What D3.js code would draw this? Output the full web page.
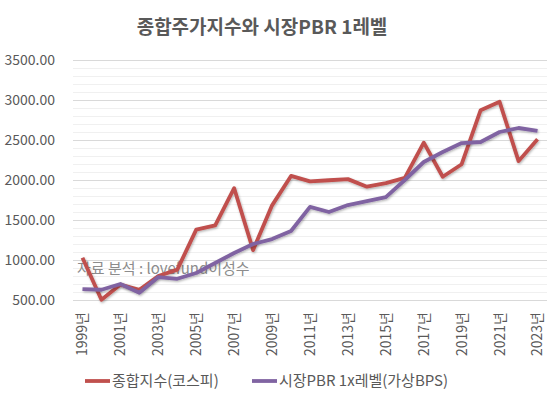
<!DOCTYPE html>
<html>
<head>
<meta charset="utf-8">
<script src="https://cdn.jsdelivr.net/npm/d3@7"></script>
<style>
  body { margin: 0; background: #fff; }
  text { font-family: "Noto Sans CJK KR", "Noto Sans", sans-serif; }
</style>
</head>
<body>
<div id="chart"></div>
<script>
var years = d3.range(1999, 2024);
var kospi = [1028, 504, 693, 627, 800, 880, 1379, 1434, 1897, 1124, 1683, 2051, 1983, 1997, 2011, 1916, 1961, 2026, 2467, 2041, 2197, 2873, 2977, 2236, 2510];
var pbrLevel = [637, 628, 700, 590, 787, 765, 837, 962, 1087, 1200, 1262, 1362, 1665, 1600, 1687, 1737, 1787, 2000, 2225, 2350, 2462, 2475, 2600, 2650, 2615];
var yTicks = [500, 1000, 1500, 2000, 2500, 3000, 3500];
var seriesNames = ["종합지수(코스피)", "시장PBR 1x레벨(가상BPS)"];
var colors = ["#C0504D", "#8064A2"];

var vWidth = 557, vHeight = 397;
var mLeft = 73, mRight = 547, mTop = 60, mBottom = 300;

var svg = d3.select("#chart").append("svg")
    .attr("width", vWidth)
    .attr("height", vHeight);

var defs = svg.append("defs");
var f = defs.append("filter").attr("id", "shadow")
    .attr("x", "-5%").attr("y", "-5%").attr("width", "110%").attr("height", "120%");
f.append("feDropShadow").attr("dx", 0.8).attr("dy", 1.2).attr("stdDeviation", 0.8)
    .attr("flood-color", "#000").attr("flood-opacity", 0.3);

var x = d3.scaleBand().domain(years).range([mLeft, mRight]);
var y = d3.scaleLinear().domain([500, 3500]).range([mBottom, mTop]);

// title
svg.append("text")
    .attr("x", 262).attr("y", 34)
    .attr("text-anchor", "middle")
    .attr("font-size", 19).attr("font-weight", "bold")
    .attr("fill", "#595959")
    .text("종합주가지수와  시장PBR 1레벨");

// minor + major gridlines
svg.append("g").selectAll("line")
    .data(d3.range(500, 3501, 100))
    .enter().append("line")
    .attr("x1", mLeft).attr("x2", mRight)
    .attr("y1", function (d) { return Math.round(y(d)) + 0.5; })
    .attr("y2", function (d) { return Math.round(y(d)) + 0.5; })
    .attr("stroke", function (d) { return d % 500 === 0 ? "#d9d9d9" : "#f0f0f0"; })
    .attr("stroke-width", 1);

// y axis labels
var yAxis = svg.append("g")
    .attr("transform", "translate(" + (mLeft - 15) + ",0)")
    .call(d3.axisLeft(y).tickValues(yTicks).tickSize(0).tickFormat(d3.format(".2f")));
yAxis.select(".domain").remove();
yAxis.selectAll("text")
    .attr("font-size", 14).attr("fill", "#595959")
    .attr("font-family", "'Noto Sans', sans-serif");

// x axis labels (every other year)
var xAxis = svg.append("g")
    .attr("transform", "translate(0," + (mBottom + 10) + ")")
    .call(d3.axisBottom(x).tickSize(0)
        .tickValues(years.filter(function (d, i) { return i % 2 === 0; }))
        .tickFormat(function (d) { return d + "년"; }));
xAxis.select(".domain").remove();
xAxis.selectAll("text")
    .attr("font-size", 14).attr("fill", "#595959")
    .attr("font-family", "'Noto Sans CJK KR', sans-serif")
    .attr("transform", "rotate(-90)")
    .attr("text-anchor", "end")
    .attr("x", -2).attr("y", 0).attr("dy", "0.35em");

// watermark
svg.append("text")
    .attr("x", 77).attr("y", 274)
    .attr("font-size", 15).attr("fill", "#8c8c8c")
    .text("자료 분석 : lovefund이성수");

// lines
var line = d3.line()
    .x(function (d, i) { return x(years[i]) + x.bandwidth() / 2; })
    .y(function (d) { return y(d); });

[kospi, pbrLevel].forEach(function (s, k) {
    svg.append("path")
        .datum(s)
        .attr("d", line)
        .attr("fill", "none")
        .attr("stroke", colors[k])
        .attr("stroke-width", 3.8)
        .attr("stroke-linejoin", "round")
        .attr("filter", "url(#shadow)");
});

// legend
var legendX = [85, 252];
var lg = svg.append("g").attr("transform", "translate(0,381)");
seriesNames.forEach(function (n, k) {
    lg.append("line")
        .attr("x1", legendX[k]).attr("x2", legendX[k] + 25)
        .attr("y1", 0).attr("y2", 0)
        .attr("stroke", colors[k]).attr("stroke-width", 3.8);
    lg.append("text")
        .attr("x", legendX[k] + 27).attr("y", 0).attr("dy", "0.35em")
        .attr("font-size", 15).attr("fill", "#595959")
        .text(n);
});
</script>
</body>
</html>
